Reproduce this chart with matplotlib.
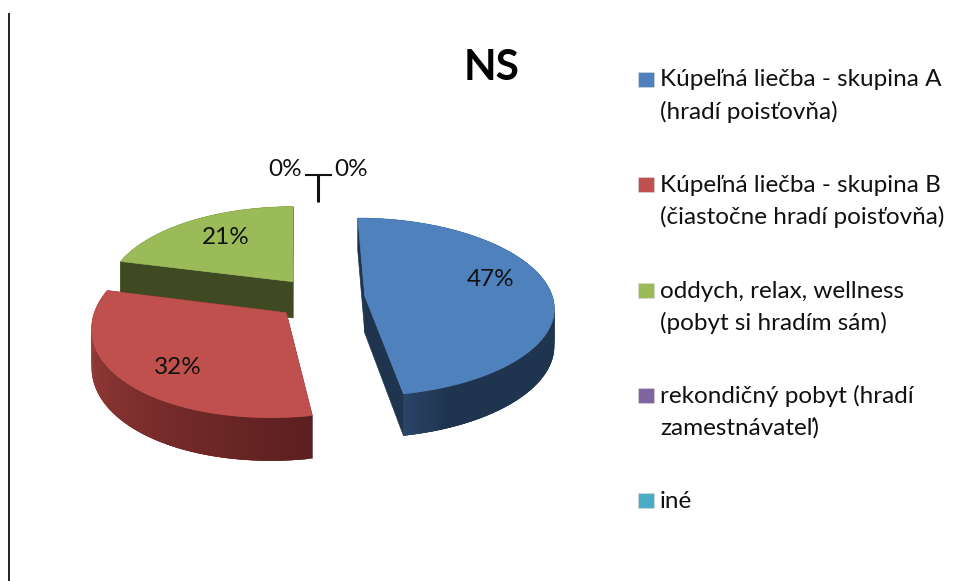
import numpy as np
import matplotlib
matplotlib.use("Agg")
import matplotlib.pyplot as plt
from matplotlib.patches import Polygon, Rectangle
from matplotlib.collections import PolyCollection
from matplotlib.colors import to_rgb

plt.rcParams['font.family'] = ['Lato', 'DejaVu Sans']

# ---- data ----
title = "NS"
categories = [
    "Kúpeľná liečba - skupina A\n(hradí poisťovňa)",
    "Kúpeľná liečba - skupina B\n(čiastočne hradí poisťovňa)",
    "oddych, relax, wellness\n(pobyt si hradím sám)",
    "rekondičný pobyt (hradí\nzamestnávateľ)",
    "iné",
]
values = [47, 32, 21, 0, 0]
colors = ["#4F81BD", "#C0504D", "#9BBB59", "#8064A2", "#4BACC6"]
wall_near = ["#2A4367", "#5C1F1F", "#3F4A23", "#3F2F55", "#255866"]
wall_far = ["#1F344F", "#A4423F", "#3F4A23", "#3F2F55", "#255866"]

# ---- projection of the exploded pie (pixel space) ----
CX, CY = 320, 298
A, B = 188, 88
K = 0.123
SHEAR = 8
EXPLODE = 0.24
DEPTH = 37


def project(u, v):
    s = 1 / (1 - K * v)
    return CX + A * u * s - SHEAR * np.maximum(v, 0) ** 2 - 2 * np.minimum(v, 0) ** 2, CY + B * v * s, s


fig = plt.figure(figsize=(9.54, 5.81), dpi=100, facecolor="white")
ax = fig.add_axes([0, 0, 1, 1])
ax.set_xlim(0, 954)
ax.set_ylim(581, 0)
ax.axis("off")

# left border line
ax.plot([9.5, 9.5], [13, 581], color="#111111", lw=1.3, solid_capstyle="butt")

total = sum(values)
fractions = [v / total for v in values]
starts = np.cumsum([0] + fractions[:-1]) * 2 * np.pi

slices = []
for i, (f, t0) in enumerate(zip(fractions, starts)):
    if f == 0:
        continue
    t1 = t0 + f * 2 * np.pi
    mid = (t0 + t1) / 2
    ox, oy = EXPLODE * np.sin(mid), -EXPLODE * np.cos(mid)
    th = np.linspace(t0, t1, 160)
    x, y, s = project(ox + np.sin(th), oy - np.cos(th))
    ax_, ay_, as_ = project(ox, oy)
    slices.append(dict(i=i, x=x, y=y, s=s, apex=(ax_, ay_, as_)))

# back to front: green, red, blue
for sl in sorted(slices, key=lambda d: -d["i"]):
    i = sl["i"]
    x, y, s = sl["x"], sl["y"], sl["s"]
    px, py, ps = sl["apex"]
    base = wall_far[i] if i != 1 else wall_near[i]
    # radial walls
    for j in (0, -1):
        ax.add_patch(Polygon([(px, py), (x[j], y[j]),
                              (x[j], y[j] + DEPTH * s[j]), (px, py + DEPTH * ps)],
                             closed=True, fc=base, ec=base, lw=0.5, zorder=2 + (2 - i) * 3))
    # outer wall with shading along the arc; each quad overlaps the next to avoid seams
    quads, cols = [], []
    near, far = np.array(to_rgb(wall_near[i])), np.array(to_rgb(wall_far[i]))
    n = len(x)
    for k in range(n - 1):
        e = min(k + 3, n - 1)
        quads.append([(x[k], y[k]), (x[e], y[e]),
                      (x[e], y[e] + DEPTH * s[e]), (x[k], y[k] + DEPTH * s[k])])
        frac = k / (n - 2)
        if i == 0:  # blue: lighter only close to the front end
            w = np.clip((frac - 0.93) / 0.07, 0, 1)
            cols.append(far + (near - far) * w)
        elif i == 1:  # red: from dark at the front to lighter at the left
            cols.append(near + (far - near) * frac)
        else:
            cols.append(far)
    ax.add_collection(PolyCollection(quads, facecolors=cols, edgecolors="none", linewidths=0,
                                     zorder=3 + (2 - i) * 3))
    # top surface
    ax.add_patch(Polygon(list(zip(x, y)) + [(px, py)], closed=True, fc=colors[i], ec=colors[i],
                         lw=0.5, zorder=4 + (2 - i) * 3))

# data labels
pct_pos = [(491, 280), (178, 368), (226, 238), (285, 170), (351, 170)]
for v, (lx, ly) in zip(values, pct_pos):
    ax.text(lx, ly, f"{v}%", ha="center", va="center", fontsize=17.5, color="#111111", zorder=30)

# leader lines of the two zero slices
ax.plot([305, 332], [175, 175], color="#111111", lw=1.5, zorder=30, solid_capstyle="butt")
ax.plot([318, 318], [175, 202], color="#111111", lw=2.2, zorder=30, solid_capstyle="butt")

# title
ax.text(491.5, 68, title, ha="center", va="center", fontsize=30.5, fontweight="bold", color="#000000")

# legend
legend_y = [80, 185, 291, 396, 501]
for cat, col, ly in zip(categories, colors, legend_y):
    ax.add_patch(Rectangle((638, ly - 8.5), 16, 15, fc=col, ec="#dddddd", lw=0.4))
    for j, line in enumerate(cat.split("\n")):
        ax.text(660, ly + j * 31.5, line, ha="left", va="center", fontsize=17.5, color="#111111")

fig.savefig("out.png", dpi=100, facecolor="white")
